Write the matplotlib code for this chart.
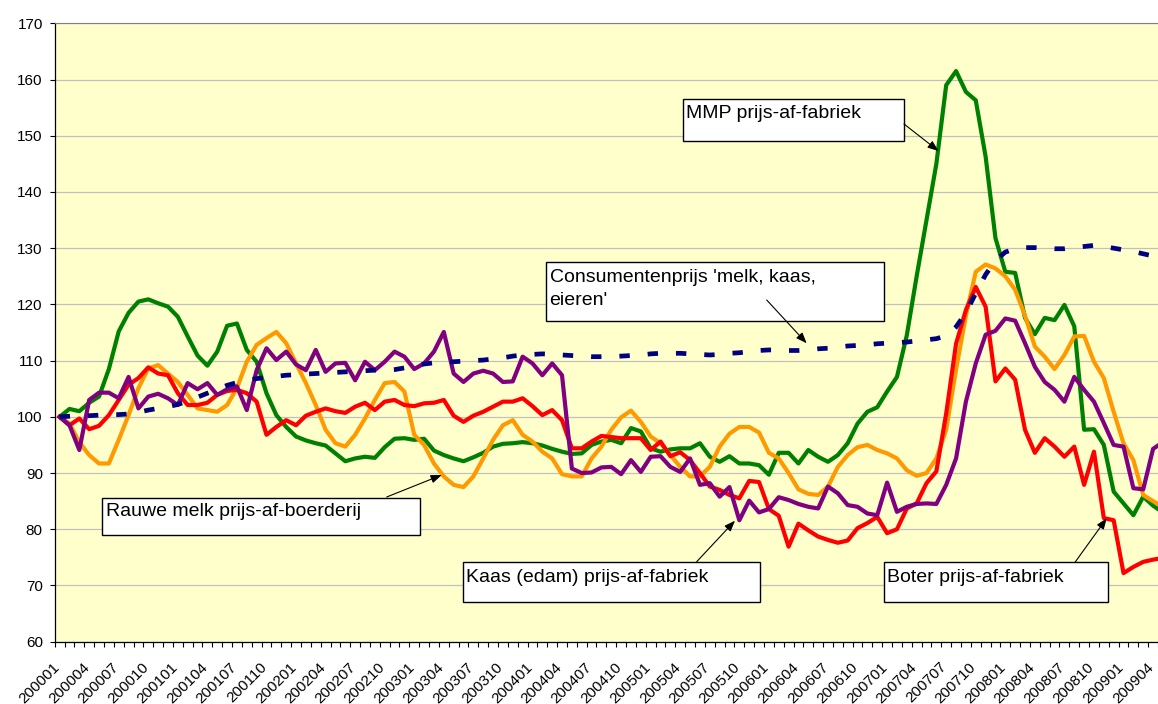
import matplotlib
matplotlib.use("Agg")
import matplotlib.pyplot as plt
from matplotlib.patches import Rectangle, FancyArrowPatch
from matplotlib.transforms import ScaledTranslation
import numpy as np

plt.rcParams['font.family'] = ['Liberation Sans', 'DejaVu Sans']

# maanden 200001 .. 200905
months = [f"{y}{m:02d}" for y in range(2000, 2010) for m in range(1, 13)][:113]

mmp = [100, 101.4, 101.0, 102.5, 103.6, 108.5, 115.2, 118.5, 120.5, 120.9,
       120.2, 119.6, 117.8, 114.3, 110.9, 109.1, 111.6, 116.2, 116.6, 111.9,
       109.8, 104.2, 100.3, 98.2, 96.5, 95.8, 95.3, 94.9, 93.5, 92.1,
       92.6, 92.9, 92.7, 94.6, 96.1, 96.2, 95.9, 96.1, 94.0, 93.2,
       92.6, 92.1, 92.8, 93.6, 94.7, 95.2, 95.3, 95.5, 95.3, 94.9,
       94.3, 93.8, 93.4, 93.5, 95.0, 95.6, 95.9, 95.3, 98.0, 97.4,
       94.4, 93.8, 94.2, 94.4, 94.4, 95.3, 92.9, 92.0, 93.0, 91.7,
       91.7, 91.4, 89.7, 93.6, 93.6, 91.7, 94.1, 92.9, 92.0, 93.2,
       95.3, 98.8, 100.9, 101.7, 104.5, 107.1, 114.5, 125.0, 135.0, 145.0,
       159.0, 161.5, 157.8, 156.3, 146.3, 131.8, 125.8, 125.6, 117.6, 114.7,
       117.6, 117.2, 119.9, 116.1, 97.7, 97.8, 95.0, 86.7, 84.6, 82.5,
       85.8, 84.2, 83.0]

boter = [100, 98.5, 99.7, 97.8, 98.4, 100.3, 103.0, 105.7, 106.9, 108.8,
         107.7, 107.4, 104.2, 102.1, 102.1, 102.5, 103.9, 104.6, 104.8, 104.2,
         102.7, 96.8, 98.2, 99.4, 98.5, 100.2, 100.9, 101.5, 101.0, 100.7,
         101.8, 102.5, 101.2, 102.7, 103.0, 102.1, 101.9, 102.4, 102.5, 103.0,
         100.2, 99.1, 100.2, 100.9, 101.8, 102.7, 102.7, 103.3, 101.9, 100.3,
         101.2, 99.4, 94.4, 94.4, 95.6, 96.6, 96.4, 96.2, 96.2, 96.2,
         94.1, 95.6, 93.0, 93.7, 92.3, 90.0, 87.6, 87.0, 86.1, 85.5,
         88.6, 88.4, 83.6, 82.4, 76.9, 81.0, 79.8, 78.7, 78.1, 77.6,
         78.0, 80.2, 81.1, 82.2, 79.3, 80.0, 83.7, 84.6, 88.2, 90.3,
         100.6, 113.0, 119.0, 123.1, 119.6, 106.3, 108.6, 106.6, 97.7, 93.6,
         96.2, 94.7, 92.9, 94.7, 87.9, 93.8, 82.0, 81.6, 72.2, 73.3,
         74.2, 74.6, 74.9]

rauwe_melk = [100, 98.8, 95.5, 93.2, 91.7, 91.7, 95.9, 100.3, 105.1, 108.6,
              109.2, 107.7, 106.2, 103.9, 101.5, 101.2, 100.9, 102.1, 105.1, 109.8,
              112.8, 114.0, 115.1, 113.1, 109.5, 106.0, 102.1, 97.7, 95.3, 94.7,
              96.8, 99.7, 103.0, 106.0, 106.2, 104.5, 96.8, 95.0, 91.7, 89.4,
              87.9, 87.5, 89.4, 92.6, 95.9, 98.5, 99.4, 96.8, 95.6, 93.8,
              92.6, 89.8, 89.4, 89.4, 92.6, 94.7, 97.7, 99.9, 101.1, 99.1,
              96.5, 95.3, 93.2, 91.1, 89.4, 89.4, 91.1, 94.7, 97.0, 98.2,
              98.2, 97.2, 93.6, 92.6, 90.0, 87.1, 86.3, 86.1, 87.6, 91.1,
              93.2, 94.6, 95.0, 94.1, 93.5, 92.6, 90.5, 89.5, 90.0, 92.6,
              97.7, 108.4, 118.0, 125.8, 127.1, 126.4, 125.0, 122.6, 118.0, 112.5,
              110.7, 108.5, 111.0, 114.3, 114.4, 109.8, 106.9, 100.9, 95.3, 92.3,
              86.1, 85.0, 84.0]

kaas = [100, 98.5, 94.1, 103.0, 104.3, 104.3, 103.3, 107.1, 101.5, 103.6,
        104.1, 103.3, 102.1, 106.0, 104.9, 106.0, 103.9, 104.9, 105.4, 101.2,
        108.3, 112.2, 110.1, 111.6, 109.3, 108.3, 111.9, 108.0, 109.5, 109.6,
        106.5, 109.8, 108.3, 109.8, 111.6, 110.7, 108.5, 109.5, 111.6, 115.1,
        107.7, 106.2, 107.7, 108.2, 107.7, 106.2, 106.3, 110.7, 109.5, 107.4,
        109.5, 107.4, 90.8, 90.0, 90.1, 91.0, 91.1, 89.8, 92.3, 90.2,
        92.9, 93.0, 91.1, 90.2, 92.6, 87.9, 88.2, 85.8, 87.5, 81.6,
        85.1, 83.0, 83.6, 85.7, 85.2, 84.5, 84.0, 83.7, 87.6, 86.4,
        84.3, 84.0, 82.8, 82.5, 88.3, 83.1, 84.0, 84.5, 84.6, 84.5,
        87.9, 92.6, 102.7, 109.5, 114.6, 115.3, 117.5, 117.1, 113.1, 108.9,
        106.2, 104.8, 102.7, 107.1, 104.8, 102.7, 98.9, 95.0, 94.7, 87.3,
        87.1, 94.3, 95.5]

consument = [100.0, 100.1, 100.2, 100.2, 100.3, 100.4, 100.4, 100.5, 100.8, 101.2,
             101.5, 101.8, 102.2, 102.8, 103.5, 104.2, 104.9, 105.6, 106.1, 106.5,
             106.8, 107.0, 107.2, 107.4, 107.5, 107.6, 107.7, 107.8, 107.9, 108.0,
             108.1, 108.2, 108.3, 108.3, 108.4, 108.7, 109.1, 109.4, 109.6, 109.7,
             109.8, 109.9, 110.0, 110.1, 110.3, 110.5, 110.8, 111.0, 111.1, 111.2,
             111.1, 111.0, 110.9, 110.8, 110.7, 110.7, 110.7, 110.8, 110.9, 111.0,
             111.2, 111.3, 111.3, 111.3, 111.2, 111.1, 111.0, 111.1, 111.3, 111.4,
             111.6, 111.8, 111.9, 111.9, 111.8, 111.8, 111.9, 112.1, 112.2, 112.4,
             112.6, 112.7, 112.8, 113.0, 113.1, 113.2, 113.3, 113.5, 113.7, 113.9,
             114.4, 116.0, 118.5, 122.0, 125.3, 127.8, 129.3, 129.9, 130.1, 130.1,
             130.0, 129.9, 129.9, 130.1, 130.3, 130.5, 130.3, 130.0, 129.7, 129.4,
             129.0, 128.6, 128.2]

W, H = 1158, 704
fig = plt.figure(figsize=(W / 100, H / 100), dpi=100)
ax = fig.add_axes([54.7 / W, 1 - 641.7 / H, (W - 54.7) / W, (641.7 - 23.3) / H])
ax.set_facecolor('#FFFFCC')

x = np.arange(len(months))
ax.plot(x, mmp, color='#008000', lw=3.0)
ax.plot(x, rauwe_melk, color='#FF9900', lw=3.0)
ax.plot(x, boter, color='#FF0000', lw=3.0)
ax.plot(x, kaas, color='#800080', lw=3.0)
ax.plot(x, consument, color='#000080', lw=3.4, dashes=(2.2, 3.8))

ax.set_xlim(-0.5, 111.17)
ax.set_ylim(60, 170)
ax.set_yticks(range(60, 171, 10))
ax.yaxis.grid(True, color='#C0C0C0', lw=0.9)
ax.set_axisbelow(True)

ax.set_xticks(np.arange(-0.5, 112, 1))
ax.set_xticks(x[::3], months[::3], minor=True)
ax.tick_params(axis='x', which='major', direction='out', length=3.6, width=0.8,
               labelbottom=False)
ax.tick_params(axis='x', which='minor', length=0, pad=13, labelsize=11)
ax.tick_params(axis='y', direction='out', length=3.6, width=0.8, pad=5, labelsize=11)
for lab in ax.get_xticklabels(minor=True):
    lab.set_rotation(45)
    lab.set_ha('right')
    lab.set_va('top')
    lab.set_rotation_mode('anchor')
    lab.set_transform(lab.get_transform() + ScaledTranslation(-0.07, 0, fig.dpi_scale_trans))

ax.spines['top'].set_color('#808080')
ax.spines['right'].set_visible(False)
ax.spines['left'].set_linewidth(0.9)
ax.spines['bottom'].set_linewidth(0.9)


def fx(px):
    return px / W


def fy(py):
    return 1 - py / H


# tekstvakken: links, boven, rechts, onder (pixels)
boxes = [(683.3, 99.3, 904, 141.3), (546, 262, 884, 320.7), (102.3, 497.7, 420, 535),
         (462.7, 562.3, 760, 602.3), (884, 562.3, 1108.3, 602.3)]
for l, t, r, b in boxes:
    fig.add_artist(Rectangle((fx(l), fy(b)), fx(r) - fx(l), fy(t) - fy(b),
                             transform=fig.transFigure, facecolor='white',
                             edgecolor='black', lw=1.0, zorder=3))

labels = [(685.5, 117.6, "MMP prijs-af-fabriek"),
          (549.5, 281.5, "Consumentenprijs 'melk, kaas,"),
          (549.5, 304.5, "eieren'"),
          (105.5, 516.0, "Rauwe melk prijs-af-boerderij"),
          (465.5, 581.6, "Kaas (edam) prijs-af-fabriek"),
          (887.0, 581.6, "Boter prijs-af-fabriek")]
for px, py, s in labels:
    fig.text(fx(px), fy(py), s, fontsize=14, va='baseline', ha='left', zorder=4)

arrows = [((904, 124), (938.5, 151)), ((766.7, 300), (806.7, 343.3)),
          ((386.7, 497), (441.7, 475)), ((696.7, 561.7), (735, 520.7)),
          ((1075, 562.3), (1106.7, 518.3))]
for (x0, y0), (x1, y1) in arrows:
    fig.add_artist(FancyArrowPatch((fx(x0), fy(y0)), (fx(x1), fy(y1)),
                                   transform=fig.transFigure,
                                   arrowstyle='-|>,head_length=0.65,head_width=0.25',
                                   mutation_scale=10, color='black', lw=0.8,
                                   shrinkA=0, shrinkB=0, zorder=5))

fig.savefig('out.png', dpi=100, facecolor='white')
